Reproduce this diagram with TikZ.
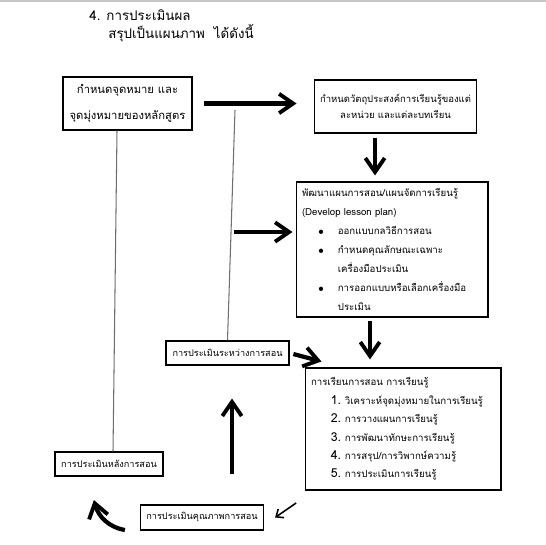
\documentclass[tikz,border=0pt]{standalone}
\usepackage{fontspec}
\setmainfont{Loma}[Script=Thai]
\usetikzlibrary{arrows.meta, positioning, calc}
\definecolor{linegray}{RGB}{110,110,110}
\definecolor{bargray}{RGB}{200,200,200}
\newcommand{\bitem}[1]{\hspace*{9pt}\makebox[11.4pt][l]{$\bullet$}#1}
\newcommand{\bcont}[1]{\hspace*{20.4pt}#1}
\newcommand{\nitem}[2]{\hspace*{11.3pt}\makebox[8pt][l]{\fontsize{7}{7}\selectfont #1.}#2}

\begin{document}
\begin{tikzpicture}[
    x=0.02cm, y=-0.02cm,
    box/.style={rectangle, draw=black, line width=0.6pt, inner sep=3.4pt, align=center,
                font=\fontsize{5.5}{10.8}\selectfont},
    smallbox/.style={box, font=\fontsize{5.2}{6}\selectfont},
    bigarr/.style={-{Straight Barb[length=8pt, width=11pt, line width=2.2pt]}, line width=2.4pt},
    smallarr/.style={-{Straight Barb[length=3.5pt, width=6pt]}, line width=0.9pt},
    thinln/.style={draw=linegray, line width=0.6pt},
]
    \useasboundingbox (0,0) rectangle (546,544);
    \fill[bargray] (0,0) rectangle (546,2.5);

    % heading
    \node[anchor=west, inner sep=0pt, font=\fontsize{7.6}{8}\selectfont] (head) at (89,15) {4. การประเมินผล};
    \node[anchor=west, inner sep=0pt, font=\fontsize{7.6}{8}\selectfont] (sub) at (108,33) {สรุปเป็นแผนภาพ\ \ ได้ดังนี้};

    % boxes
    \node[box, minimum width=2.58cm, minimum height=1.06cm, font=\fontsize{6.4}{14.5}\selectfont] (goal) at (127.5,103.5)
        {กำหนดจุดหมาย และ\\จุดมุ่งหมายของหลักสูตร};
    \node[box, minimum width=3.14cm, minimum height=1.06cm, font=\fontsize{5.4}{9}\selectfont] (obj) at (395.5,106.5)
        {กำหนดวัตถุประสงค์การเรียนรู้ของแต่\\ละหน่วย และแต่ละบทเรียน};
    \node[box, minimum width=3.84cm, minimum height=2.7cm, text width=3.6cm, align=left] (develop) at (392,249.5)
        {พัฒนาแผนการสอน/แผนจัดการเรียนรู้\\(Develop lesson plan)\\
         \bitem{ออกแบบกลวิธีการสอน}\\
         \bitem{กำหนดคุณลักษณะเฉพาะ}\\
         \bcont{เครื่องมือประเมิน}\\
         \bitem{การออกแบบหรือเลือกเครื่องมือ}\\
         \bcont{ประเมิน}};
    \node[smallbox, minimum width=2.46cm, minimum height=0.48cm] (during) at (227.5,353)
        {การประเมินระหว่างการสอน};
    \node[box, minimum width=3.92cm, minimum height=2.44cm, text width=3.68cm, align=left,
          font=\fontsize{5.5}{10.5}\selectfont] (teach) at (403,429)
        {การเรียนการสอน การเรียนรู้\\
         \nitem{1}{วิเคราะห์จุดมุ่งหมายในการเรียนรู้}\\
         \nitem{2}{การวางแผนการเรียนรู้}\\
         \nitem{3}{การพัฒนาทักษะการเรียนรู้}\\
         \nitem{4}{การสรุป/การวิพากษ์ความรู้}\\
         \nitem{5}{การประเมินการเรียนรู้}};
    \node[smallbox, minimum width=2.16cm, minimum height=0.48cm] (after) at (109,464)
        {การประเมินหลังการสอน};
    \node[smallbox, minimum width=2.36cm, minimum height=0.5cm] (quality) at (202,517.5)
        {การประเมินคุณภาพการสอน};

    % thin lines
    \coordinate (top) at (235,110);
    \coordinate (tap) at (233.5,232);
    \draw[thinln] (top) -- (during.north);
    \draw[thinln] ([xshift=-0.21cm]goal.south) -- ([xshift=0.08cm]after.north);

    % thick arrows
    \draw[bigarr, shorten <=0.22cm, shorten >=0.34cm] (goal.east) -- (goal.east -| obj.west);
    \draw[bigarr, shorten >=0.06cm] (tap) -- (tap -| develop.west);
    \draw[bigarr, shorten <=0.08cm, shorten >=0.12cm] ([xshift=-0.41cm]obj.south) -- ([xshift=-0.41cm]obj.south |- develop.north);
    \draw[bigarr, shorten <=0.06cm, shorten >=0.16cm] ([xshift=-0.44cm]develop.south) -- ([xshift=-0.44cm]develop.south |- teach.north);
    \draw[bigarr, shorten <=0.08cm] (during.east) -- ([xshift=0.34cm,yshift=0.12cm]teach.north west);
    \draw[bigarr] ([xshift=0.09cm,yshift=0.6cm]quality.north -| during.south) -- ([xshift=0.09cm,yshift=-0.66cm]during.south);

    % feedback at the bottom
    \draw[smallarr] ([xshift=0.64cm,yshift=0.29cm]quality.east) -- ([xshift=0.22cm]quality.east);
    \draw[bigarr] ([xshift=-0.3cm,yshift=-0.25cm]quality.west) to[out=170, in=-75] ++(-0.62cm,0.6cm);
\end{tikzpicture}
\end{document}
